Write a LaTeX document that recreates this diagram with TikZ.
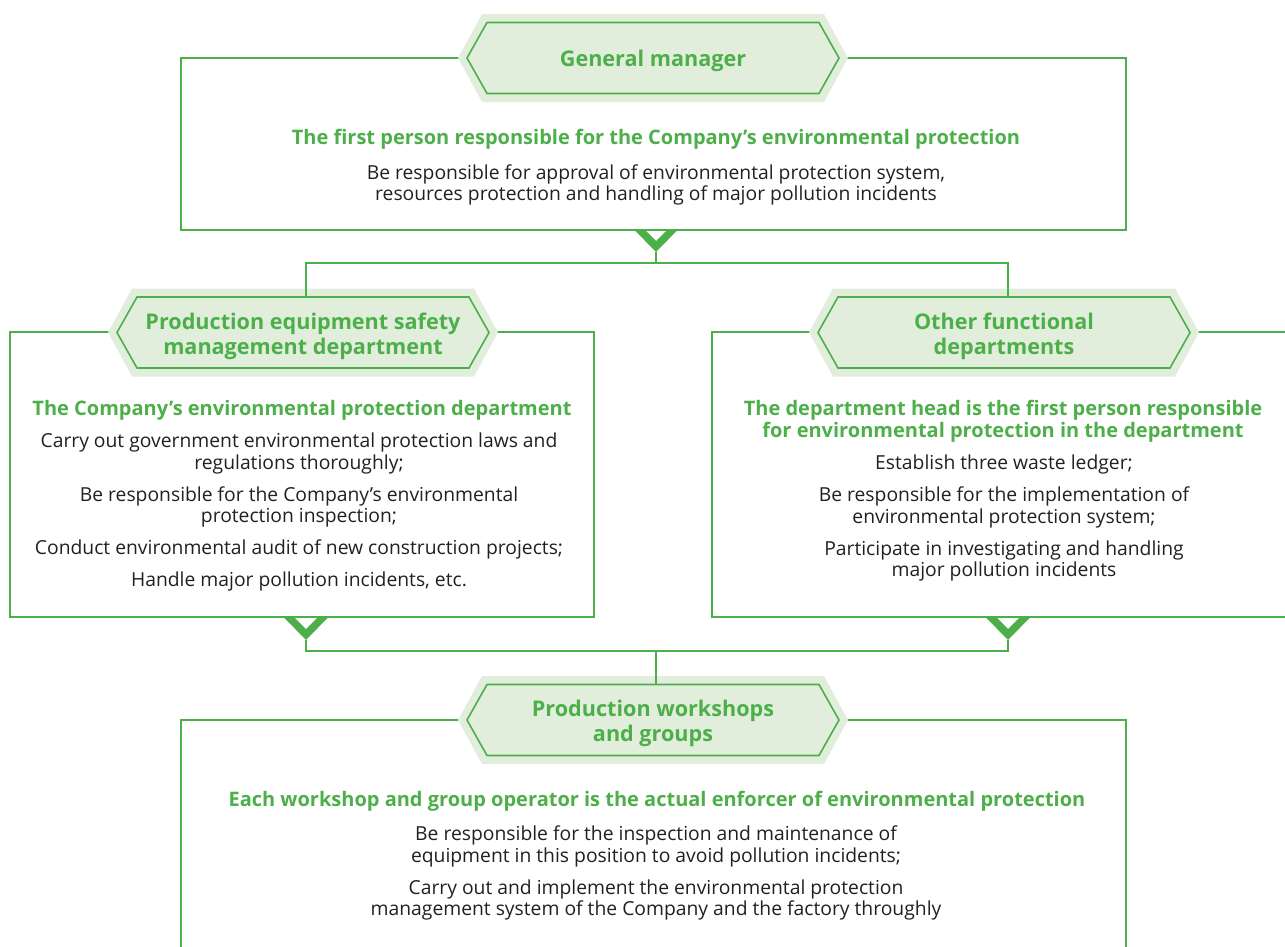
\documentclass[tikz,border=0pt]{standalone}
\usepackage{fontspec}
\setmainfont{Open Sans}
\usetikzlibrary{calc}
\definecolor{gcol}{RGB}{77,175,74}
\definecolor{lightg}{RGB}{226,238,220}
\definecolor{txt}{RGB}{35,31,32}
\begin{document}
\begin{tikzpicture}[x=1pt,y=-1pt,
  conn/.style={draw=gcol,line width=1.6pt},
  boxnode/.style={draw=gcol,line width=1.8pt,rectangle,inner sep=0pt},
  hexlabel/.style={font=\fontsize{21.6}{25}\selectfont\bfseries,text=gcol,align=center,inner sep=0pt,minimum width=372pt,minimum height=71pt},
  headtxt/.style={font=\fontsize{20}{22}\selectfont\bfseries,text=gcol,align=center,inner sep=0pt},
  bodytxt/.style={font=\fontsize{19.3}{21.5}\selectfont,text=txt,align=center,inner sep=0pt},
  hexhead/.pic={
    \fill[lightg] (-195,0) -- (-171,-44) -- (171,-44) -- (195,0) -- (171,44) -- (-171,44) -- cycle;
    \draw[draw=gcol,line width=1.6pt,fill=lightg] (-186,0) -- (-166,-35.5) -- (166,-35.5) -- (186,0) -- (166,35.5) -- (-166,35.5) -- cycle;
  },
  chev/.pic={
    \fill[gcol] (-22.5,0) -- (0,23) -- (22.5,0) -- (12,0) -- (0,12) -- (-12,0) -- cycle;
  }]
\useasboundingbox (0,0) rectangle (1285,946);
\clip (0,0) rectangle (1285,946);

% boxes
\node[boxnode,minimum width=945pt,minimum height=172pt] (topbox) at (653.5,144) {};
\node[boxnode,minimum width=584pt,minimum height=285pt] (lbox) at (302,474.5) {};
\node[boxnode,minimum width=584pt,minimum height=285pt] (rbox) at (1004,474.5) {};
\node[boxnode,minimum width=945pt,minimum height=300pt] (bbox) at (653.5,870) {};

% hexagon headers
\pic at (653,58) {hexhead};
\pic at (303,332.5) {hexhead};
\pic at (1004,332.5) {hexhead};
\pic at (653,720) {hexhead};

% connector points
\coordinate (tchev) at (656,229);
\coordinate (ttip) at (656,252);
\coordinate (tj) at (656,263);
\coordinate (lj) at (306,263);
\coordinate (rj) at (1008,263);
\coordinate (ltop) at (306,297);
\coordinate (rtop) at (1008,297);
\coordinate (lchev) at (306,617);
\coordinate (ltip) at (306,640);
\coordinate (lj2) at (306,651);
\coordinate (rchev) at (1008,617);
\coordinate (rtip) at (1008,640);
\coordinate (rj2) at (1008,651);
\coordinate (bj) at (656,651);
\coordinate (btop) at (656,685);

\draw[conn] (ttip) -- (tj);
\draw[conn] (ltop) -- (lj) -- (rj) -- (rtop);
\draw[conn] (ltip) -- (lj2) -- (rj2) -- (rtip);
\draw[conn] (bj) -- (btop);

\pic at (tchev) {chev};
\pic at (lchev) {chev};
\pic at (rchev) {chev};

% hexagon labels
\node[hexlabel] (gm) at (653,61) {General manager};
\node[hexlabel] (lhex) at (303,336) {Production equipment safety\\management department};
\node[hexlabel] (rhex) at (1004,336) {Other functional\\departments};
\node[hexlabel] (bhex) at (653,723) {Production workshops\\and groups};

% top box text
\node[headtxt] (thead) at (656,139) {The first person responsible for the Company’s environmental protection};
\node[bodytxt] (tbody) at (656,185) {Be responsible for approval of environmental protection system,\\resources protection and handling of major pollution incidents};

% left box text
\node[headtxt] (lhead) at (302,410) {The Company’s environmental protection department};
\node[bodytxt] (lbody) at (299,512) {Carry out government environmental protection laws and\\regulations thoroughly;\\[10.5pt]Be responsible for the Company’s environmental\\protection inspection;\\[10.5pt]Conduct environmental audit of new construction projects;\\[10.5pt]Handle major pollution incidents, etc.};

% right box text
\node[headtxt] (rhead) at (1003,421) {The department head is the first person responsible\\for environmental protection in the department};
\node[bodytxt] (rbody) at (1004,518) {Establish three waste ledger;\\[10.5pt]Be responsible for the implementation of\\environmental protection system;\\[10.5pt]Participate in investigating and handling\\major pollution incidents};

% bottom box text
\node[headtxt] (bhead) at (657,801) {Each workshop and group operator is the actual enforcer of environmental protection};
\node[bodytxt] (bbody) at (656,873) {Be responsible for the inspection and maintenance of\\equipment in this position to avoid pollution incidents;\\[10.5pt]Carry out and implement the environmental protection\\management system of the Company and the factory throughly};
\end{tikzpicture}
\end{document}
